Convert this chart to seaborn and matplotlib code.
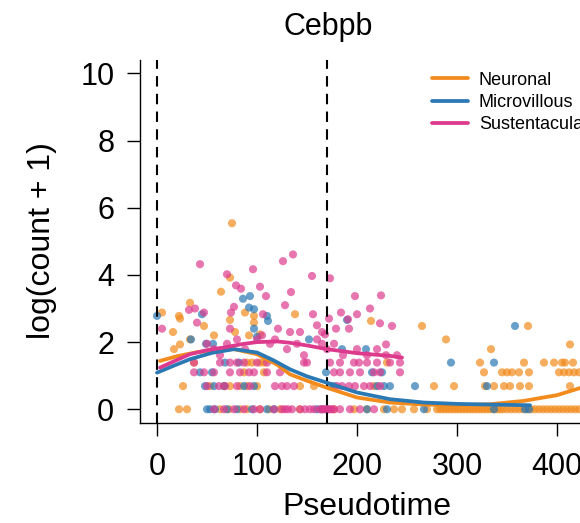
import numpy as np
import pandas as pd
import matplotlib
matplotlib.use("Agg")
import matplotlib.pyplot as plt
import seaborn as sns

# ---------------- data ----------------
lineages = ["Neuronal", "Microvillous", "Sustentacular"]
colors = ["#F28A1C", "#2A78B4", "#DD3A8D"]
boundaries = [0, 170]

# scattered (non-level) points
neu_hi_x = [75, 5, 16, 22, 23, 23, 17, 33, 33, 47, 57, 64, 73, 73, 78, 88, 92, 97, 97, 103, 138, 214, 265, 289, 334, 371, 413]
neu_hi_y = [5.54, 2.88, 2.30, 2.78, 2.70, 1.93, 1.79, 2.08, 3.17, 2.48, 2.20, 3.50, 3.92, 2.66, 2.30, 2.88, 2.20, 2.58, 2.78, 2.23, 2.83, 2.63, 2.48, 2.08, 1.79, 2.48, 1.93]
neu_l4_x = [37, 90, 95, 103, 107, 230, 323, 367, 387, 397, 405, 408, 416]
neu_l3_x = [87, 107, 327, 345, 350, 355, 362, 372, 402, 407, 412, 417, 422]
neu_l2_x = [26, 53, 67, 73, 83, 90, 100, 143, 157, 217, 277, 297, 328, 337, 347, 353, 363, 372, 413]
neu_l0_x = [22, 30, 63, 72, 83, 90, 103, 112, 123, 143, 177, 197, 210, 227, 237, 245, 257, 270, 280, 283,
            286, 289, 292, 295, 298, 301, 304, 307, 310, 313, 316, 319, 322, 325, 328, 331, 334, 337, 340,
            343, 346, 350, 354, 358, 362, 366, 370, 374, 378, 382, 386, 390, 394, 398, 402, 406, 410, 414, 418, 422]

mic_hi_x = [0, 45, 34, 49, 56, 86, 93, 92, 97, 97, 100, 110, 111, 152, 190, 185, 209, 358]
mic_hi_y = [2.78, 2.83, 2.08, 1.95, 1.95, 3.29, 3.37, 3.03, 2.98, 2.40, 2.16, 2.78, 2.63, 2.08, 2.66, 1.79, 1.79, 2.48]
mic_l4_x = [68, 82, 294, 337]
mic_l3_x = [43, 55, 169, 215, 225]
mic_l2_x = [48, 57, 67, 87, 97, 173, 177, 220, 227, 233, 258, 330]
mic_l0_x = [50, 53, 58, 70, 80, 95, 110, 117, 160, 165, 170, 210, 230, 267, 337, 368, 372]

sus_hi_x = [5, 43, 32, 38, 40, 47, 70, 74, 77, 79, 84, 73, 96, 103, 109, 106, 126, 136, 128, 134, 155, 156, 173,
            121, 133, 143, 160, 165, 168, 172, 179, 184, 191, 198, 200, 213, 224, 223, 235, 229, 192]
sus_hi_y = [2.40, 4.32, 2.96, 3.00, 2.58, 2.88, 4.02, 2.88, 3.05, 3.69, 3.59, 2.40, 4.17, 3.65, 3.37, 2.83, 4.41,
            4.61, 3.10, 3.49, 3.97, 2.83, 3.90, 2.40, 2.30, 2.30, 2.50, 2.30, 2.23, 2.70, 2.40, 2.88, 2.68, 3.37,
            2.83, 3.00, 3.39, 2.56, 2.48, 1.93, 2.40]
sus_mid_x = [50, 57, 63, 70, 80, 88, 100, 105, 113, 118, 130, 140, 147, 160, 165, 170, 177, 186, 200, 210, 220, 229, 240]
sus_mid_y = [1.95, 1.79, 1.61, 1.95, 2.08, 1.79, 2.08, 2.20, 1.95, 2.08, 1.79, 1.95, 1.61, 2.08, 1.95, 1.79, 1.95,
             1.61, 1.79, 1.61, 1.79, 1.61, 1.61]
sus_l4_x = [37, 63, 73, 80, 87, 100, 110, 147, 150, 173, 183, 197, 202, 210, 220, 233, 243]
sus_l3_x = [37, 47, 57, 73, 83, 92, 97, 110, 123, 177, 183, 193, 203, 217, 223, 243]
sus_l2_x = [50, 62, 68, 80, 93, 118, 125, 130, 137, 180, 185, 192, 198, 207, 213, 223]
sus_l0_x = [57, 67, 77, 87, 97, 103, 117, 125, 128, 131, 135, 143, 148, 153, 157, 163, 165, 167, 169, 171, 173,
            175, 177, 183, 193, 203, 217]

# discrete expression levels log(count + 1)
level_values = [0.0, 0.69, 1.10, 1.39]

# smoothed fits
neu_fit_x = [3, 20, 40, 60, 77, 100, 120, 133, 150, 170, 200, 233, 267, 300, 333, 367, 400, 425]
neu_fit_y = [1.44, 1.58, 1.70, 1.77, 1.79, 1.64, 1.33, 1.04, 0.85, 0.64, 0.35, 0.20, 0.14, 0.12, 0.15, 0.25, 0.42, 0.65]
mic_fit_x = [0, 17, 33, 55, 77, 100, 117, 133, 150, 170, 200, 233, 267, 300, 333, 373]
mic_fit_y = [1.09, 1.30, 1.49, 1.68, 1.79, 1.69, 1.45, 1.19, 0.98, 0.79, 0.50, 0.30, 0.20, 0.16, 0.14, 0.12]
sus_fit_x = [3, 20, 33, 50, 67, 85, 100, 120, 133, 150, 170, 200, 233, 245]
sus_fit_y = [1.24, 1.47, 1.64, 1.76, 1.84, 1.94, 2.00, 2.02, 1.98, 1.90, 1.79, 1.67, 1.59, 1.54]

# ---------------- build tables ----------------
def build(name, hi_x, hi_y, l0, l2, l3, l4, extra_x=(), extra_y=()):
    xs, ys = list(hi_x) + list(extra_x), list(hi_y) + list(extra_y)
    for lv, arr in zip(level_values, [l0, l2, l3, l4]):
        xs += list(arr)
        ys += [lv] * len(arr)
    return pd.DataFrame({"Pseudotime": xs, "expr": ys, "lineage": name})

pts = pd.concat([
    build("Neuronal", neu_hi_x, neu_hi_y, neu_l0_x, neu_l2_x, neu_l3_x, neu_l4_x),
    build("Microvillous", mic_hi_x, mic_hi_y, mic_l0_x, mic_l2_x, mic_l3_x, mic_l4_x),
    build("Sustentacular", sus_hi_x, sus_hi_y, sus_l0_x, sus_l2_x, sus_l3_x, sus_l4_x, sus_mid_x, sus_mid_y),
], ignore_index=True)

fits = pd.concat([
    pd.DataFrame({"Pseudotime": neu_fit_x, "expr": neu_fit_y, "lineage": "Neuronal"}),
    pd.DataFrame({"Pseudotime": mic_fit_x, "expr": mic_fit_y, "lineage": "Microvillous"}),
    pd.DataFrame({"Pseudotime": sus_fit_x, "expr": sus_fit_y, "lineage": "Sustentacular"}),
], ignore_index=True)

# ---------------- plot ----------------
sns.set_theme(style="ticks")
plt.rcParams["font.family"] = ["Liberation Sans", "DejaVu Sans"]
plt.rcParams["text.color"] = "black"
palette = dict(zip(lineages, colors))

W, H = 580, 523
fig = plt.figure(figsize=(W / 100, H / 100), dpi=100)
ax = fig.add_axes([140 / W, 100.3 / H, 459 / W, 362.7 / H])

sns.scatterplot(data=pts, x="Pseudotime", y="expr", hue="lineage", hue_order=lineages,
                palette=palette, s=34, alpha=0.7, linewidth=0, legend=False, ax=ax, zorder=2)
for b in boundaries:
    ax.axvline(b, color="black", lw=1.5, dashes=(5, 3.5), zorder=3)
sns.lineplot(data=fits, x="Pseudotime", y="expr", hue="lineage", hue_order=lineages,
             palette=palette, lw=2.7, estimator=None, sort=True, ax=ax, zorder=4)

ax.set_xlim(-17, 442)
ax.set_ylim(-0.4, 10.4)
ax.set_xticks([0, 100, 200, 300, 400])
ax.set_yticks([0, 2, 4, 6, 8, 10])
ax.set_xlabel("")
ax.set_ylabel("")
for s in ["top", "right"]:
    ax.spines[s].set_visible(False)
for s in ["left", "bottom"]:
    ax.spines[s].set_linewidth(1.0)
    ax.spines[s].set_color("black")
ax.tick_params(axis="both", colors="black", labelcolor="black", width=1.0, labelsize=22)
ax.tick_params(axis="x", length=9, pad=12)
ax.tick_params(axis="y", length=9.5, pad=9)

handles, labels = ax.get_legend_handles_labels()
leg = ax.legend(handles, labels, loc="upper left", bbox_to_anchor=(0.636, 0.968),
                frameon=False, fontsize=13, handlelength=2.0, handletextpad=0.6,
                labelspacing=0.3, borderpad=0, borderaxespad=0)
for h in leg.get_lines():
    h.set_linewidth(2.7)
for t in leg.get_texts():
    t.set_color("black")

fig.text(328 / W, 1 - 27 / H, "Cebpb", ha="center", va="center", fontsize=22, color="black")
fig.text(367 / W, 1 - 507 / H, "Pseudotime", ha="center", va="center", fontsize=23, color="black")
fig.text(42 / W, 1 - 241 / H, "log(count + 1)", ha="center", va="center", rotation=90, fontsize=23, color="black")

fig.savefig("out.png", dpi=100)
